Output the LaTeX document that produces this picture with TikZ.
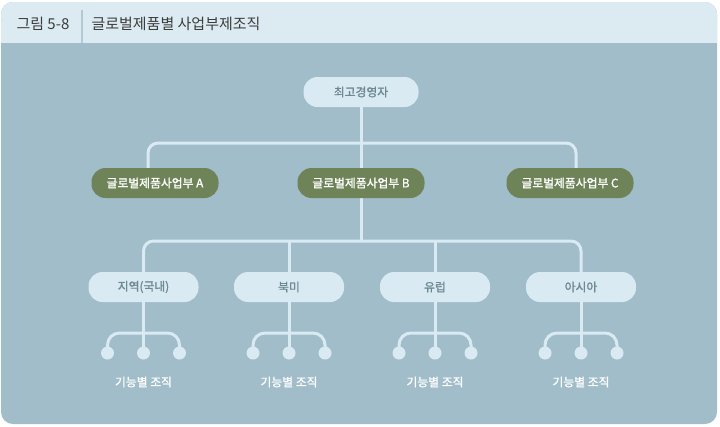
\documentclass[tikz,border=0pt]{standalone}
\usepackage{fontspec}
\setmainfont{Noto Sans CJK KR}
\newfontfamily\nodefont[FakeBold=1.2]{Noto Sans CJK KR}
\usetikzlibrary{positioning}
\definecolor{bodyc}{HTML}{A0BDC9}
\definecolor{headc}{HTML}{DCEBF2}
\definecolor{greenc}{HTML}{6E8458}
\definecolor{lightc}{HTML}{D9EAF2}
\definecolor{ltext}{HTML}{6D8893}
\definecolor{htext}{HTML}{3C3C3C}
\tikzset{
  lightbox/.style={rounded corners=14pt, fill=lightc, minimum width=110pt, minimum height=30pt, text=ltext, font=\nodefont\fontsize{11.8}{13}\selectfont},
  greenbox/.style={rounded corners=14pt, fill=greenc, minimum width=127pt, minimum height=30pt, text=white, font=\nodefont\fontsize{11.8}{13}\selectfont},
  conn/.style={draw=lightc, line width=3pt, rounded corners=10pt},
  dotc/.style={circle, fill=lightc, inner sep=0pt, minimum size=13pt},
  funclabel/.style={text=white, font=\nodefont\fontsize{11.8}{13}\selectfont},
}
\begin{document}
\begin{tikzpicture}[x=1pt,y=-1pt]
\useasboundingbox (0,0) rectangle (720,426);
% panel
\fill[bodyc, rounded corners=12pt] (1,2) rectangle (717,424);
\fill[headc, rounded corners=12pt] (1,2) rectangle (717,30);
\fill[headc] (1,20) rectangle (717,43);
\draw[draw=bodyc!80!white, line width=1.5pt] (82,10) -- (82,43);
\node[anchor=west, text=htext, font=\fontsize{15}{17}\selectfont] (fig) at (13,24) {그림 5-8};
\node[anchor=west, text=htext, font=\fontsize{15}{17}\selectfont] (title) at (88,24) {글로벌제품별 사업부제조직};
% connectors (drawn first)
\draw[conn] (148,183) -- (148,143) -- (576,143) -- (576,183);
\draw[conn] (361,92) -- (361,183);
\draw[conn] (143.5,287) -- (143.5,241) -- (581,241) -- (581,287);
\draw[conn] (361,183) -- (361,241);
\draw[conn] (289,241) -- (289,287);
\draw[conn] (435,241) -- (435,287);
% nodes
\node[lightbox, minimum width=115pt] (ceo) at (361,92) {최고경영자};
\node[greenbox] (ga) at (155,183) {글로벌제품사업부 A};
\node[greenbox] (gb) at (361,183) {글로벌제품사업부 B};
\node[greenbox] (gc) at (570,183) {글로벌제품사업부 C};
\foreach \n/\cx/\t in {r1/143.5/지역(국내), r2/289/북미, r3/435/유럽, r4/581/아시아}{
  \draw[conn, rounded corners=12pt] (\cx-36,353) -- (\cx-36,333) -- (\cx+36,333) -- (\cx+36,353);
  \draw[conn] (\cx,287) -- (\cx,353);
  \node[lightbox] (\n) at (\cx,287) {\t};
  \node[dotc] (\n d1) at (\cx-36,353) {};
  \node[dotc] (\n d2) at (\cx,353) {};
  \node[dotc] (\n d3) at (\cx+36,353) {};
  \node[funclabel] (\n f) at (\cx,382) {기능별 조직};
}
\end{tikzpicture}
\end{document}
